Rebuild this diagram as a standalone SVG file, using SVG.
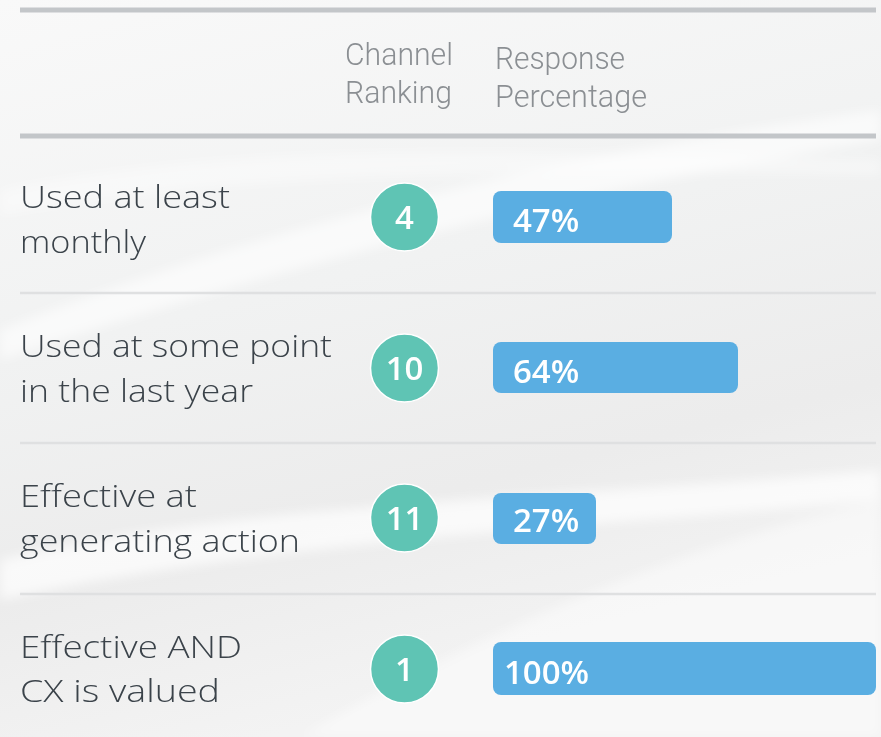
<svg xmlns="http://www.w3.org/2000/svg" width="881" height="737" viewBox="0 0 881 737">
<defs>
<linearGradient id="bg" x1="0" y1="0" x2="0.3" y2="1">
<stop offset="0" stop-color="#f9f9f9"/>
<stop offset="0.45" stop-color="#f1f2f2"/>
<stop offset="0.75" stop-color="#ececec"/>
<stop offset="1" stop-color="#f3f3f3"/>
</linearGradient>
<filter id="blur" x="-20%" y="-20%" width="140%" height="140%"><feGaussianBlur stdDeviation="6"/></filter>
<style>
.lbl{font-family:"Open Sans","Liberation Sans",sans-serif;font-weight:300;font-size:31px;fill:#3b434a;font-variant-ligatures:none;}
.hdr{font-family:Roboto,"Liberation Sans",sans-serif;font-weight:300;font-size:31px;fill:#8b8f93;}
.circ{fill:#5fc4b4;stroke:#ffffff;stroke-width:1.5;}
.num{font-family:"Open Sans","Liberation Sans",sans-serif;font-weight:600;font-size:33px;fill:#ffffff;text-anchor:middle;}
.bar{fill:#5aaee2;}
.pct{font-family:"Open Sans","Liberation Sans",sans-serif;font-weight:600;font-size:33px;fill:#ffffff;}
.thick{stroke:#c3c6c9;stroke-width:5;}
.thin{stroke:#dfe0e1;stroke-width:2.5;}
</style>
</defs>
<rect width="881" height="737" fill="url(#bg)"/>
<g id="background-swooshes" filter="url(#blur)" fill="#ffffff">
<path d="M0 330 C200 250 500 160 881 110 L881 140 C520 200 240 280 0 360 Z" opacity="0.6"/>
<path d="M0 560 C250 500 550 500 881 470 L881 500 C560 530 280 540 0 600 Z" opacity="0.7"/>
<path d="M300 737 C500 620 700 540 881 500 L881 737 Z" opacity="0.45"/>
<path d="M0 190 C250 140 500 150 881 160 L881 175 C520 170 260 170 0 215 Z" opacity="0.4"/>
</g>
<g id="rules">
<line class="thick" x1="20" y1="10" x2="876" y2="10"/>
<line class="thick" x1="20" y1="136" x2="876" y2="136"/>
<line class="thin" x1="20" y1="293" x2="876" y2="293"/>
<line class="thin" x1="20" y1="443" x2="876" y2="443"/>
<line class="thin" x1="20" y1="594" x2="876" y2="594"/>
</g>
<g id="header">
<text class="hdr" x="345" y="65" textLength="108" lengthAdjust="spacingAndGlyphs">Channel</text>
<text class="hdr" x="345" y="103" textLength="107" lengthAdjust="spacingAndGlyphs">Ranking</text>
<text class="hdr" x="495" y="69" textLength="130" lengthAdjust="spacingAndGlyphs">Response</text>
<text class="hdr" x="495" y="107" textLength="152" lengthAdjust="spacingAndGlyphs">Percentage</text>
</g>
<g id="row1">
<text class="lbl" x="20" y="208" textLength="210" lengthAdjust="spacingAndGlyphs">Used at least</text>
<text class="lbl" x="20" y="253" textLength="126" lengthAdjust="spacingAndGlyphs">monthly</text>
<circle class="circ" cx="404.5" cy="217" r="34"/>
<text class="num" x="404.5" y="229">4</text>
<rect class="bar" x="493" y="191" width="179" height="52" rx="8"/>
<text class="pct" x="513" y="232">47%</text>
</g>
<g id="row2">
<text class="lbl" x="20" y="357" textLength="312" lengthAdjust="spacingAndGlyphs">Used at some point</text>
<text class="lbl" x="20" y="402" textLength="233" lengthAdjust="spacingAndGlyphs">in the last year</text>
<circle class="circ" cx="404.5" cy="368" r="34"/>
<text class="num" x="404.5" y="380">10</text>
<rect class="bar" x="493" y="342" width="245" height="51" rx="8"/>
<text class="pct" x="513" y="383">64%</text>
</g>
<g id="row3">
<text class="lbl" x="20" y="507" textLength="177" lengthAdjust="spacingAndGlyphs">Effective at</text>
<text class="lbl" x="20" y="552" textLength="280" lengthAdjust="spacingAndGlyphs">generating action</text>
<circle class="circ" cx="404.5" cy="518" r="34"/>
<text class="num" x="404.5" y="530">11</text>
<rect class="bar" x="493" y="493" width="103" height="51" rx="8"/>
<text class="pct" x="513" y="532">27%</text>
</g>
<g id="row4">
<text class="lbl" x="20" y="658" textLength="222" lengthAdjust="spacingAndGlyphs">Effective AND</text>
<text class="lbl" x="20" y="702" textLength="200" lengthAdjust="spacingAndGlyphs">CX is valued</text>
<circle class="circ" cx="404.5" cy="669" r="34"/>
<text class="num" x="404.5" y="681">1</text>
<rect class="bar" x="493" y="642" width="383" height="53" rx="8"/>
<text class="pct" x="504" y="684">100%</text>
</g>
</svg>
